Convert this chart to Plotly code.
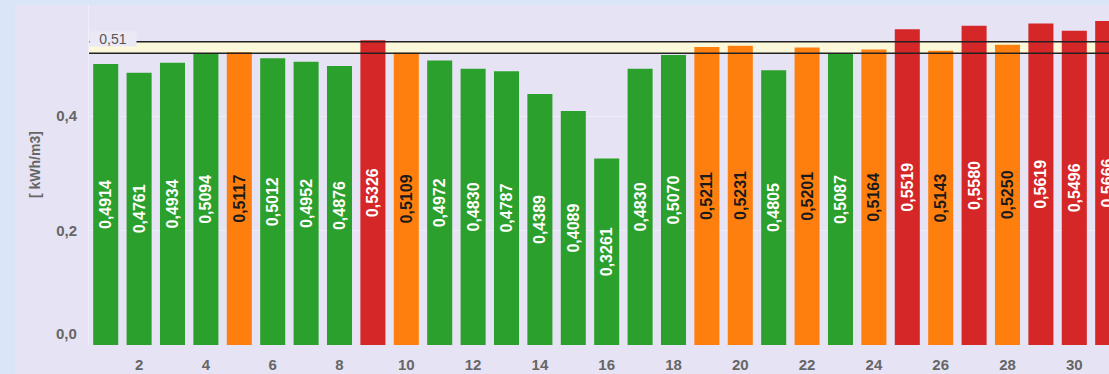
import plotly.graph_objects as go

# Daily specific energy consumption, days 1..31
days = list(range(1, 32))
values = [0.4914, 0.4761, 0.4934, 0.5094, 0.5117, 0.5012, 0.4952, 0.4876,
          0.5326, 0.5109, 0.4972, 0.4830, 0.4787, 0.4389, 0.4089, 0.3261,
          0.4830, 0.5070, 0.5211, 0.5231, 0.4805, 0.5201, 0.5087, 0.5164,
          0.5519, 0.5143, 0.5580, 0.5250, 0.5619, 0.5496, 0.5666]

target = 0.51
upper = 0.53
x_ticks = list(range(2, 31, 2))
y_ticks = [0.2, 0.4]

GREEN, ORANGE, RED = "#2ca02c", "#ff7f0e", "#d62728"
LAVENDER = "#e6e4f4"
PALE_BLUE = "#dae6f8"
FONT = "Liberation Sans"


def bar_color(v):
    if v < target:
        return GREEN
    if v < upper:
        return ORANGE
    return RED


colors = [bar_color(v) for v in values]
text_colors = ["#1a1a1a" if c == ORANGE else "white" for c in colors]

fig = go.Figure(
    go.Bar(
        x=days,
        y=values,
        marker=dict(color=colors, line=dict(width=0)),
        texttemplate="%{y:.4f}",
        textposition="inside",
        insidetextanchor="middle",
        textangle=-90,
        textfont=dict(family=FONT, size=16, color=text_colors, weight="bold"),
        hoverinfo="skip",
    )
)

shapes = [
    # lavender panel behind the chart
    dict(type="rect", xref="paper", yref="paper", x0=-74 / 1020, x1=1.0,
         y0=-29 / 340, y1=1.0, fillcolor=LAVENDER, line=dict(width=0),
         layer="below"),
    # tolerance band
    dict(type="rect", xref="paper", yref="y", x0=0, x1=1, y0=target, y1=upper,
         fillcolor="#fcf8da", line=dict(width=0), layer="below"),
    dict(type="line", xref="paper", yref="y", x0=0, x1=1, y0=target, y1=target,
         line=dict(color="#222222", width=1.5), layer="above"),
    dict(type="line", xref="paper", yref="y", x0=0, x1=1, y0=upper, y1=upper,
         line=dict(color="#222222", width=1.5), layer="above"),
]

annotations = [
    dict(text="0,51", xref="paper", yref="y", x=0, y=upper, xanchor="left",
         yanchor="middle", xshift=0, yshift=3, showarrow=False,
         width=46, align="center", height=14,
         bgcolor="#ebe9f5", borderpad=0,
         font=dict(family=FONT, size=14, color="#555555")),
    dict(text="0,0", xref="paper", yref="y", x=0, y=0, xanchor="right",
         yanchor="middle", xshift=-10, yshift=12, showarrow=False,
         font=dict(family=FONT, size=15, color="#666666", weight="bold")),
    dict(text="[ kWh/m3]", xref="paper", yref="paper", x=-54 / 1020,
         y=180 / 340, xanchor="center", yanchor="middle", textangle=-90,
         showarrow=False,
         font=dict(family=FONT, size=14, color="#666666", weight="bold")),
]

fig.update_layout(
    width=1109,
    height=374,
    margin=dict(l=89, r=0, t=5, b=29),
    paper_bgcolor=PALE_BLUE,
    plot_bgcolor=LAVENDER,
    separators=", ",
    bargap=0.25,
    showlegend=False,
    shapes=shapes,
    annotations=annotations,
    xaxis=dict(
        range=[0.5, 0.5 + 1020 / 33.4],
        tickvals=x_ticks,
        ticks="outside",
        ticklen=6,
        tickcolor="rgba(0,0,0,0)",
        showgrid=False,
        zeroline=False,
        tickfont=dict(family=FONT, size=15, color="#666666", weight="bold"),
    ),
    yaxis=dict(
        range=[0, 340 / 572],
        tickvals=y_ticks,
        tickformat=".1f",
        ticks="outside",
        ticklen=8,
        tickcolor="rgba(0,0,0,0)",
        showgrid=True,
        gridcolor="#eeedf8",
        zeroline=False,
        showline=True,
        linecolor="#efeef9",
        tickfont=dict(family=FONT, size=15, color="#666666", weight="bold"),
    ),
)

fig.write_html("out.html")
